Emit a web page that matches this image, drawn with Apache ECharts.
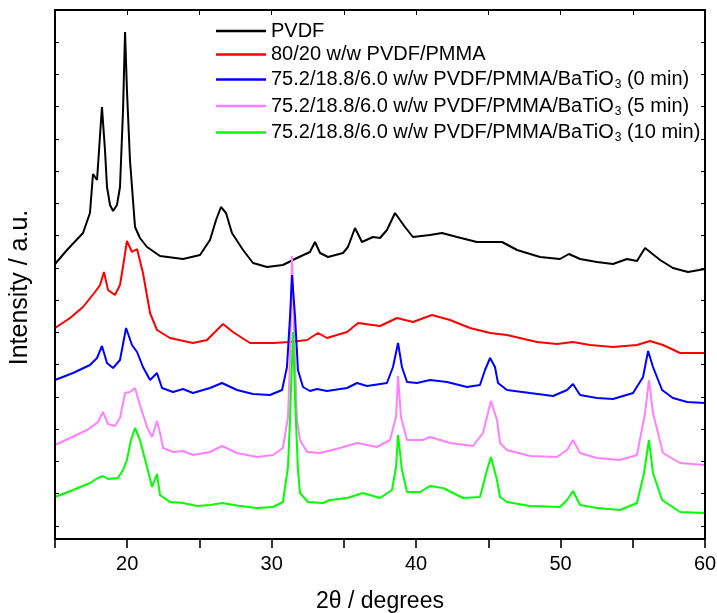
<!DOCTYPE html>
<html>
<head>
<meta charset="utf-8">
<script src="https://cdn.jsdelivr.net/npm/echarts@6/dist/echarts.min.js"></script>
<style>
html,body{margin:0;padding:0;background:#fff;}
#chart{width:717px;height:613px;}
</style>
</head>
<body>
<div id="chart"></div>
<script>
// 2θ (degrees), intensity (a.u., offset-stacked as in the figure)
var pvdf = [[15.00,275],[15.83,289],[16.94,306],[17.42,326],[17.63,365],[17.91,359],[18.25,432],[18.46,389],[18.60,352],[18.81,334],[19.02,328],[19.29,334],[19.50,352],[19.71,429],[19.85,507],[19.98,449],[20.19,379],[20.54,312],[20.88,301],[21.37,292],[22.27,283],[23.86,280],[25.04,284],[25.73,299],[26.15,319],[26.49,332],[26.84,326],[27.25,306],[28.02,289],[28.71,276],[29.68,272],[30.78,274],[31.75,281],[32.65,287],[33.00,297],[33.35,286],[33.90,282],[34.94,286],[35.28,292],[35.77,311],[36.25,297],[37.01,302],[37.50,301],[37.98,309],[38.54,326],[39.23,312],[39.78,302],[40.96,304],[41.79,306],[42.83,302],[44.21,297],[45.95,297],[46.99,289],[48.58,282],[49.96,280],[50.58,285],[51.35,280],[52.52,277],[53.63,275],[54.60,280],[55.29,278],[55.85,291],[56.89,279],[57.78,271],[58.82,267],[60.00,270]];
var pvdfPmma = [[15.00,211],[16.04,221],[16.94,232],[17.77,247],[18.12,254],[18.39,267],[18.67,249],[19.15,244],[19.50,254],[19.78,279],[19.98,298],[20.33,287],[20.68,290],[21.09,266],[21.58,226],[22.06,209],[22.96,201],[24.55,196],[25.52,199],[26.63,215],[27.32,207],[28.50,196],[30.09,196],[31.27,197],[32.45,199],[33.21,206],[33.83,201],[35.22,207],[35.98,216],[37.50,213],[38.68,221],[39.78,217],[41.10,224],[42.35,219],[43.73,211],[45.12,206],[46.29,204],[48.37,197],[49.75,195],[50.86,197],[52.04,194],[53.63,192],[55.29,194],[56.19,198],[57.09,194],[58.27,186],[60.00,186]];
var bt0 = [[15.00,159],[16.25,166],[17.42,174],[17.91,181],[18.25,193],[18.60,176],[19.02,171],[19.50,179],[19.92,211],[20.33,194],[20.68,187],[21.09,172],[21.58,159],[22.06,166],[22.41,151],[23.17,147],[23.86,150],[24.55,146],[25.73,151],[26.56,156],[27.60,149],[28.71,145],[29.88,144],[30.72,149],[31.06,172],[31.27,222],[31.41,264],[31.62,222],[31.82,169],[32.17,152],[32.65,148],[33.14,150],[33.83,148],[35.22,151],[35.91,156],[36.60,153],[37.98,156],[38.40,172],[38.75,196],[39.02,172],[39.37,157],[40.06,156],[40.96,159],[42.14,157],[43.52,152],[44.42,154],[44.77,169],[45.12,181],[45.46,172],[45.67,156],[46.29,149],[47.88,146],[49.48,143],[50.45,149],[50.86,155],[51.35,144],[52.52,141],[53.63,140],[55.02,146],[55.71,162],[56.06,188],[56.40,172],[57.03,149],[57.78,141],[58.76,137],[60.00,136]];
var bt5 = [[15.00,94],[16.04,101],[17.22,109],[17.98,117],[18.32,127],[18.67,115],[19.15,113],[19.50,121],[19.85,146],[20.19,147],[20.54,151],[20.88,134],[21.37,112],[21.72,102],[22.06,118],[22.27,106],[22.48,91],[23.17,87],[23.86,88],[24.55,84],[25.73,87],[26.56,93],[27.60,86],[28.98,82],[30.09,84],[30.78,91],[31.13,122],[31.27,179],[31.41,283],[31.55,209],[31.75,119],[31.96,99],[32.45,87],[33.35,86],[34.73,91],[35.91,96],[37.29,92],[38.19,99],[38.61,122],[38.75,163],[38.95,122],[39.37,99],[40.48,99],[40.96,102],[42.35,96],[43.94,93],[44.63,106],[45.18,138],[45.60,119],[45.81,96],[46.29,89],[47.88,83],[49.75,82],[50.45,89],[50.86,99],[51.35,86],[52.52,81],[54.11,79],[55.29,84],[55.85,126],[56.12,159],[56.40,126],[57.09,86],[58.27,76],[60.00,74]];
var bt10 = [[15.00,42],[16.25,49],[17.42,56],[17.98,61],[18.32,63],[18.67,60],[19.36,61],[19.71,69],[19.98,79],[20.26,99],[20.54,111],[20.88,99],[21.37,72],[21.72,52],[22.06,65],[22.27,44],[22.96,37],[23.86,36],[24.83,33],[25.73,34],[26.56,36],[27.81,33],[28.98,31],[30.09,32],[30.78,37],[31.13,72],[31.27,119],[31.48,207],[31.62,139],[31.82,69],[31.96,46],[32.52,37],[33.55,36],[34.04,39],[35.22,41],[36.32,46],[37.50,41],[38.33,49],[38.61,72],[38.75,104],[39.02,69],[39.37,47],[40.27,47],[40.96,53],[41.86,51],[43.25,41],[44.42,42],[44.91,69],[45.18,82],[45.60,59],[45.81,42],[46.29,37],[47.88,33],[49.96,32],[50.45,39],[50.86,48],[51.35,34],[52.52,31],[54.11,29],[55.29,36],[55.78,66],[56.12,99],[56.40,66],[57.03,39],[58.27,27],[60.00,26]];

var seriesNames = ['PVDF','80/20 w/w PVDF/PMMA','75.2/18.8/6.0 w/w PVDF/PMMA/BaTiO3 (0 min)','75.2/18.8/6.0 w/w PVDF/PMMA/BaTiO3 (5 min)','75.2/18.8/6.0 w/w PVDF/PMMA/BaTiO3 (10 min)'];
var seriesColors = ['#000000','#ff0000','#0000ff','#ff80ff','#00ff00'];
var xTickValues = [15,20,25,30,35,40,45,50,55,60];
var xLabelValues = [20,30,40,50,60];
var yTickValues = [13,45.3,77.5,109.8,142.1,174.4,206.6,238.9,271.2,303.4,335.7,368.0,400.2,432.5,464.8,497.0,529];

var FONT = '"Liberation Sans", Arial, sans-serif';
var chart = echarts.init(document.getElementById('chart'), null, {renderer:'canvas'});

function mk(idx, data, z){
  return {
    name: seriesNames[idx], type:'line', data:data, showSymbol:false, symbol:'none',
    xAxisIndex:0, yAxisIndex:0, z:z,
    lineStyle:{color:seriesColors[idx], width:2},
    itemStyle:{color:seriesColors[idx]},
    emphasis:{disabled:true}, silent:true
  };
}
function axLine(c){ return {show:true, onZero:false, lineStyle:{color:c, width:2}}; }

chart.setOption({
  animation:false,
  grid:{left:55, right:12, top:10, bottom:74, outerBoundsMode:'none', containLabel:false},
  graphic:[{
    type:'rect', silent:true, z:100,
    shape:{x:55, y:10, width:650, height:529},
    style:{fill:'none', stroke:'#000', lineWidth:2}
  }],
  legend:{
    orient:'vertical', left:216, top:21, padding:0, itemWidth:50, itemHeight:2.5, itemGap:3.5,
    icon:'rect',
    data: seriesNames,
    selectedMode:false,
    textStyle:{
      fontFamily:FONT, fontSize:20, color:'#000',
      rich:{
        n:{fontFamily:FONT, fontSize:20, lineHeight:22, color:'#000'},
        s:{fontFamily:FONT, fontSize:12, lineHeight:12, padding:[11,0,0,1], color:'#000'}
      }
    },
    formatter:function(name){
      var i = name.indexOf('BaTiO3');
      if(i < 0) return '{n|' + name + '}';
      return '{n|' + name.slice(0, i + 5) + '}{s|3}{n|' + name.slice(i + 6) + '}';
    }
  },
  xAxis:[{
    type:'value', min:15, max:60, position:'bottom',
    axisLine:axLine('#000'),
    axisTick:{show:true, inside:false, length:9, customValues:xTickValues, lineStyle:{color:'#000', width:1.6}},
    axisLabel:{show:true, customValues:xLabelValues, margin:15, fontFamily:FONT, fontSize:20, color:'#000'},
    splitLine:{show:false},
    name:'2θ / degrees', nameLocation:'middle', nameGap:51,
    nameTextStyle:{fontFamily:FONT, fontSize:23, color:'#000'}
  },{
    type:'value', min:15, max:60, position:'top',
    axisLine:axLine('#010101'),
    axisTick:{show:true, inside:true, length:5, customValues:xTickValues, lineStyle:{color:'#010101', width:1}},
    axisLabel:{show:false}, splitLine:{show:false}
  }],
  yAxis:[{
    type:'value', min:0, max:529, position:'left',
    axisLine:axLine('#000'),
    axisTick:{show:true, inside:true, length:4, customValues:yTickValues, lineStyle:{color:'#000', width:1}},
    axisLabel:{show:false}, splitLine:{show:false},
    name:'Intensity / a.u.', nameLocation:'middle', nameGap:22, nameRotate:90,
    nameTextStyle:{fontFamily:FONT, fontSize:25, color:'#000', padding:[0,26,0,0]}
  },{
    type:'value', min:0, max:529, position:'right',
    axisLine:axLine('#010101'),
    axisTick:{show:true, inside:true, length:4, customValues:yTickValues, lineStyle:{color:'#010101', width:1}},
    axisLabel:{show:false}, splitLine:{show:false}
  }],
  series:[
    mk(0, pvdf, 2),
    mk(1, pvdfPmma, 3),
    mk(3, bt5, 4),
    mk(2, bt0, 5),
    mk(4, bt10, 6)
  ]
});
</script>
</body>
</html>
